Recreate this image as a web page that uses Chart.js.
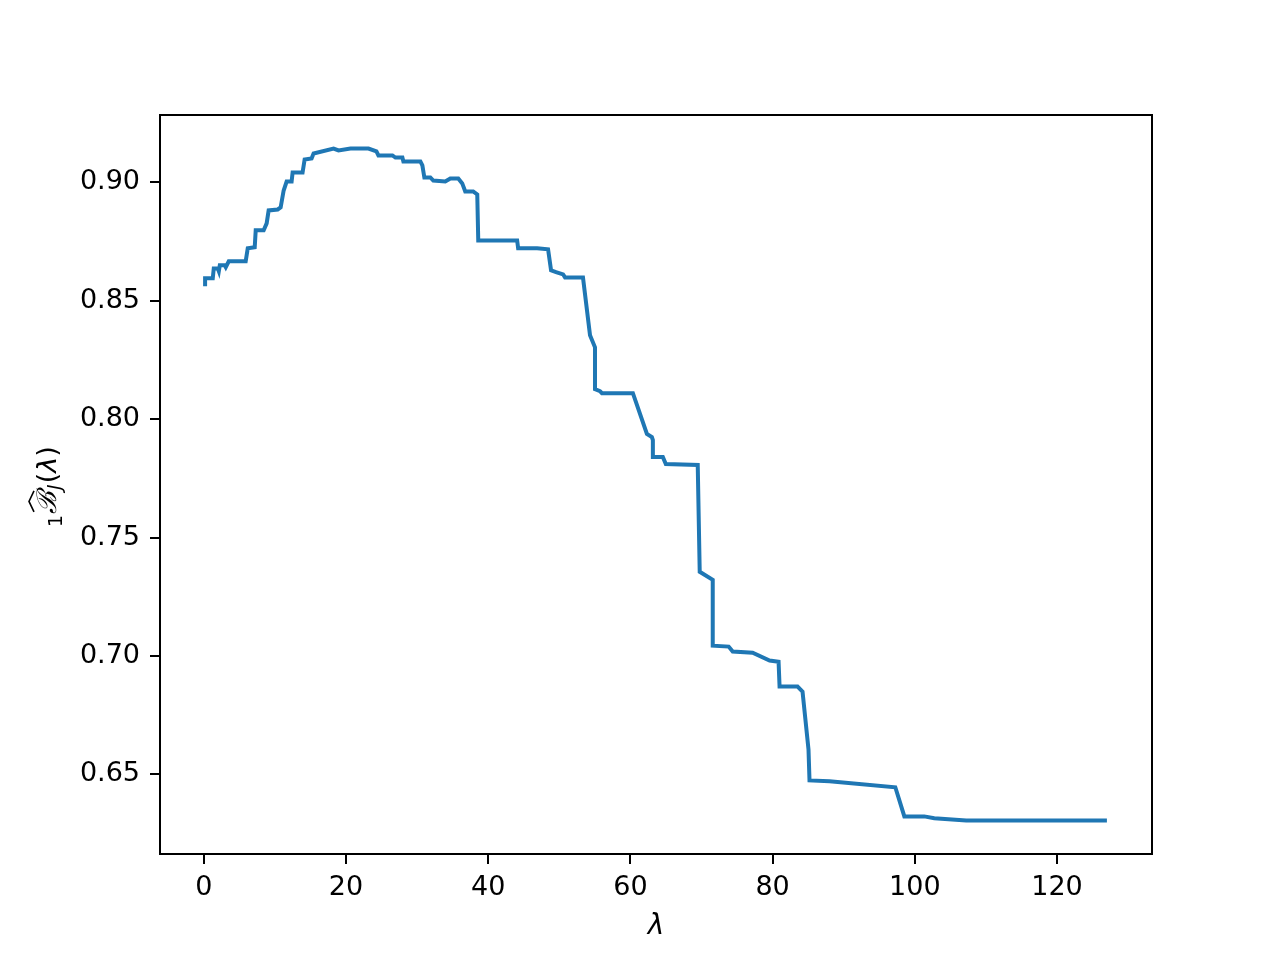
<!DOCTYPE html>
<html>
<head>
<meta charset="utf-8">
<script src="https://cdn.jsdelivr.net/npm/chart.js@4.4.1/dist/chart.umd.min.js"></script>
<style>
  html, body { margin: 0; padding: 0; background: #fff; }
  #wrap { width: 1280px; height: 960px; }
</style>
</head>
<body>
<div id="wrap"><canvas id="bjChart" width="1280" height="960"></canvas></div>
<script>
// lambda values and estimated score
const lambdaVals = [0.18, 0.18, 1.26, 1.40, 1.96, 2.11, 2.25, 2.95, 3.09, 3.51, 5.89, 6.18, 7.16, 7.30, 8.42, 8.84, 9.12, 10.39, 10.81, 11.23,
  11.65, 12.35, 12.49, 13.89, 14.18, 15.16, 15.44, 18.25, 18.95, 20.63, 23.16, 24.28, 24.56, 26.53, 26.95, 27.93, 28.07, 30.46, 30.74, 31.02,
  31.86, 32.28, 33.96, 34.67, 35.79, 36.35, 36.77, 37.89, 38.46, 38.60, 44.07, 44.21, 46.88, 48.42, 48.84, 49.54, 50.53, 50.81, 53.33, 54.32,
  55.02, 55.02, 55.72, 56.00, 60.35, 62.32, 63.02, 63.16, 63.16, 64.56, 64.98, 69.47, 69.75, 71.58, 71.58, 73.82, 74.39, 77.19, 79.58, 80.84,
  80.98, 83.51, 84.21, 85.05, 85.19, 88.0, 97.26, 98.53, 101.33, 102.74, 107.23, 127.02];
const scoreVals = [0.8562, 0.8595, 0.8595, 0.8637, 0.8637, 0.8625, 0.8650, 0.8650, 0.8642, 0.8667, 0.8667, 0.8722, 0.8726, 0.8798, 0.8798, 0.8827, 0.8882, 0.8886, 0.8895, 0.8966,
  0.9004, 0.9004, 0.9042, 0.9042, 0.9097, 0.9101, 0.9122, 0.9143, 0.9135, 0.9143, 0.9143, 0.9131, 0.9114, 0.9114, 0.9105, 0.9105, 0.9089, 0.9089, 0.9072, 0.9021,
  0.9021, 0.9008, 0.9004, 0.9017, 0.9017, 0.8996, 0.8962, 0.8962, 0.8949, 0.8755, 0.8755, 0.8722, 0.8722, 0.8718, 0.8629, 0.8621, 0.8612, 0.8599, 0.8599, 0.8355,
  0.8304, 0.8127, 0.8119, 0.8110, 0.8110, 0.7938, 0.7925, 0.7912, 0.7841, 0.7841, 0.7811, 0.7807, 0.7356, 0.7322, 0.7044, 0.7040, 0.7019, 0.7014, 0.6981, 0.6976,
  0.6871, 0.6871, 0.6850, 0.6605, 0.6475, 0.6471, 0.6446, 0.6323, 0.6323, 0.6315, 0.6306, 0.6306];

const xTicks = [0, 20, 40, 60, 80, 100, 120];
const yTicks = [0.65, 0.70, 0.75, 0.80, 0.85, 0.90];

const points = lambdaVals.map((x, i) => ({ x: x, y: scoreVals[i] }));

// matplotlib-like 5% margins
function padRange(arr) {
  const lo = Math.min(...arr), hi = Math.max(...arr);
  const m = (hi - lo) * 0.05;
  return [lo - m, hi + m];
}
const [xMin, xMax] = padRange(lambdaVals);
const [yMin, yMax] = padRange(scoreVals);

const tickFont = { family: 'DejaVu Sans', size: 27 };

// frame + axis labels drawn by hand
const framePlugin = {
  id: 'frame',
  afterDraw(chart) {
    const { ctx, chartArea: a } = chart;
    ctx.save();
    ctx.strokeStyle = '#000';
    ctx.lineWidth = 2;
    ctx.strokeRect(a.left, a.top, a.right - a.left, a.bottom - a.top);

    // x label
    ctx.fillStyle = '#000';
    ctx.font = 'italic 28px "DejaVu Sans"';
    ctx.textAlign = 'center';
    ctx.textBaseline = 'alphabetic';
    ctx.fillText('λ', (a.left + a.right) / 2, 934);

    // y label: 1 B-hat_J (λ), rotated
    ctx.translate(56, 485);
    ctx.rotate(-Math.PI / 2);
    ctx.textAlign = 'left';
    let x = -42;
    ctx.font = '19px "DejaVu Sans"';
    ctx.fillText('1', x, 6);
    x += ctx.measureText('1').width + 1;
    ctx.font = 'italic 27px "DejaVu Serif"';
    const bx = x;
    ctx.fillText('ℬ', x, 0);
    const bw = ctx.measureText('ℬ').width;
    x += bw;
    // hat
    ctx.lineWidth = 1.6;
    ctx.beginPath();
    ctx.moveTo(bx + 2, -22);
    ctx.lineTo(bx + bw / 2 + 1, -27);
    ctx.lineTo(bx + bw, -22);
    ctx.stroke();
    ctx.font = 'italic 19px "DejaVu Sans"';
    ctx.fillText('J', x + 1, 5);
    x += ctx.measureText('J').width + 2;
    ctx.font = '27px "DejaVu Sans"';
    ctx.fillText('(', x, 0);
    x += ctx.measureText('(').width;
    ctx.font = 'italic 27px "DejaVu Sans"';
    ctx.fillText('λ', x, 0);
    x += ctx.measureText('λ').width;
    ctx.font = '27px "DejaVu Sans"';
    ctx.fillText(')', x, 0);
    ctx.restore();
  }
};

const ctx = document.getElementById('bjChart').getContext('2d');
new Chart(ctx, {
  type: 'line',
  data: {
    datasets: [{
      label: 'B_J(lambda)',
      data: points,
      borderColor: '#1f77b4',
      borderWidth: 4,
      pointRadius: 0,
      tension: 0,
      fill: false
    }]
  },
  options: {
    responsive: false,
    animation: false,
    devicePixelRatio: 1,
    layout: { padding: { left: 0, top: 115, right: 128, bottom: 0 } },
    plugins: {
      legend: { display: false },
      tooltip: { enabled: false }
    },
    scales: {
      x: {
        type: 'linear',
        min: xMin,
        max: xMax,
        afterBuildTicks: s => { s.ticks = xTicks.map(v => ({ value: v })); },
        afterFit: s => { s.height = 106; },
        border: { display: false },
        grid: { drawOnChartArea: false, drawTicks: true, tickLength: 10, lineWidth: 2, color: '#000' },
        ticks: { color: '#000', font: tickFont, padding: 8, maxRotation: 0, callback: v => String(v) }
      },
      y: {
        type: 'linear',
        min: yMin,
        max: yMax,
        afterBuildTicks: s => { s.ticks = yTicks.map(v => ({ value: v })); },
        afterFit: s => { s.width = 160; },
        border: { display: false },
        grid: { drawOnChartArea: false, drawTicks: true, tickLength: 10, lineWidth: 2, color: '#000' },
        ticks: { color: '#000', font: tickFont, padding: 10, callback: v => v.toFixed(2) }
      }
    }
  },
  plugins: [framePlugin]
});
</script>
</body>
</html>
